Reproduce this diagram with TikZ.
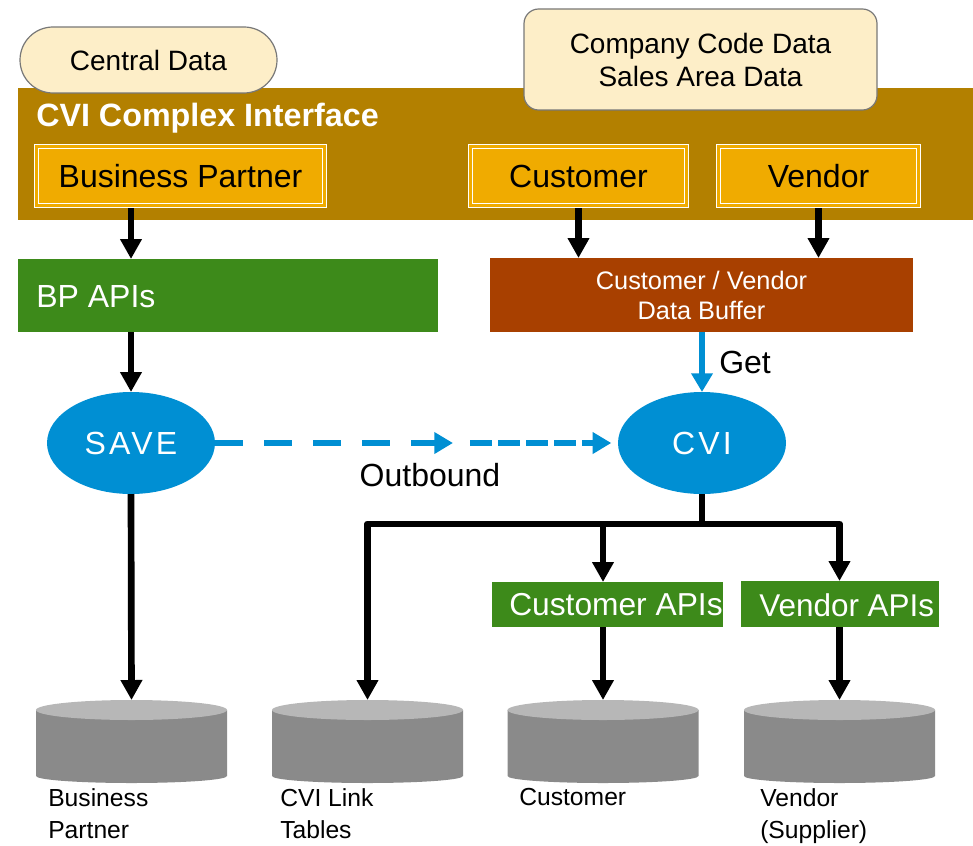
\documentclass[tikz,border=0pt]{standalone}
\usepackage{fontspec}
\setmainfont{Liberation Sans}
\newfontfamily\widefont[LetterSpace=10]{Liberation Sans}
\usetikzlibrary{arrows.meta,shapes.geometric}
\definecolor{gold}{RGB}{179,128,0}
\definecolor{boxorange}{RGB}{240,171,0}
\definecolor{cream}{RGB}{253,238,200}
\definecolor{apigreen}{RGB}{61,138,26}
\definecolor{bufbrown}{RGB}{168,64,0}
\definecolor{sapblue}{RGB}{0,143,211}
\definecolor{dbtopc}{RGB}{183,183,183}
\definecolor{dbbodyc}{RGB}{138,138,138}
\definecolor{bubbleline}{RGB}{120,120,120}
\newcommand\fs[2]{\fontsize{#1}{#2}\selectfont}
\newcommand\dbcyl[2]{%
  \fill[dbbodyc] ({#1-95.5},710) -- ({#1-95.5},776) arc[start angle=180,end angle=360,x radius=71.625pt,y radius=5.25pt] -- ({#1+95.5},710) -- cycle;
  \fill[dbtopc] (#1,710) ellipse[x radius=71.625pt, y radius=7.5pt];
  \coordinate (#2) at (#1,700);}
\begin{document}
\begin{tikzpicture}[x=0.75pt,y=-0.75pt,
  sz/.style 2 args={minimum width=#1*0.75pt, minimum height=#2*0.75pt, inner sep=0pt, outer sep=0pt},
  bubble/.style={fill=cream, draw=bubbleline, line width=0.9pt, align=center, font=\fs{21}{24.75}},
  entity/.style={fill=boxorange, draw=white, double=boxorange, double distance=2.25pt, line width=1.1pt, outer sep=2.2pt, font=\fs{24}{28}},
  api/.style={fill=apigreen},
  apitext/.style={anchor=west, text=white, inner sep=0pt},
  buf/.style={fill=bufbrown, text=white, align=center, font=\fs{19}{22.5}},
  proc/.style={ellipse, fill=sapblue, text=white, font=\widefont\fs{24}{28}},
  arr/.style={line width=5pt, line join=round, -{Triangle[width=15.5pt,length=15pt]}},
  plainline/.style={line width=5pt, line join=round},
  bluearr/.style={draw=sapblue, line width=5pt, -{Triangle[width=15.5pt,length=14pt]}},
  dblabel/.style={anchor=north west, align=left, inner sep=0pt, font=\fs{18.5}{24}}]
\useasboundingbox (0,0) rectangle (973,845);
% top band
\node[sz={955}{132}, fill=gold] (band) at (495.5,154) {};
\node[sz={257}{66}, bubble, rounded corners=24.75pt] (central) at (148.5,60) {Central Data};
\node[sz={353}{101}, bubble, rounded corners=11pt] (company) at (700.5,59.5) {Company Code Data\\Sales Area Data};
\node[anchor=west, text=white, font=\bfseries\fs{24.2}{28}, inner sep=0pt] (cvilbl) at (36,118) {CVI Complex Interface};
\node[sz={288}{59}, entity] (bp) at (180.5,176) {Business Partner};
\node[sz={216}{59}, entity] (cust) at (578.5,176) {Customer};
\node[sz={200}{59}, entity] (vend) at (818.5,176) {Vendor};
% APIs and buffer
\node[sz={420}{73}, api] (bpapi) at (228,295.5) {};
\node[apitext, font=\fs{24}{28}] (bpapilbl) at (36,297) {BP APIs};
\node[sz={423}{74}, buf] (buffer) at (701.5,295) {Customer / Vendor\\Data Buffer};
% processes
\node[sz={168}{102}, proc] (save) at (131,443) {SAVE};
\node[sz={168}{102}, proc] (cvi) at (702,443) {CVI};
\coordinate (m1) at (453,443);
\coordinate (m2) at (470,443);
\coordinate (j) at (702,524);
% lower APIs
\node[sz={231}{45}, api] (custapi) at (607.5,604.5) {};
\node[apitext, font=\fs{23.8}{27}] (custapilbl) at (509,605) {Customer APIs};
\node[sz={198}{46}, api] (vendapi) at (840,604) {};
\node[apitext, font=\fs{23.6}{27}] (vendapilbl) at (759,605) {Vendor APIs};
% databases
\dbcyl{131.5}{bpdb}
\dbcyl{367.5}{linkdb}
\dbcyl{603}{custdb}
\dbcyl{839.5}{venddb}
\node[dblabel] (bpdblbl) at (48,788) {Business\\Partner};
\node[dblabel] (linkdblbl) at (280,788) {CVI Link\\Tables};
\node[dblabel] (custdblbl) at (519,788) {Customer};
\node[dblabel] (venddblbl) at (760,788) {Vendor\\(Supplier)};
% labels
\node[font=\fs{24}{28}, inner sep=0pt] (outlbl) at (430,475) {Outbound};
\node[anchor=west, font=\fs{24}{28}, inner sep=0pt] (getlbl) at (719,362) {Get};
% connectors
\draw[arr] (save |- bp.south) -- (save |- bpapi.north);
\draw[arr] (save |- bpapi.south) -- (save.north);
\draw[arr] (cust.south) -- (cust.south |- buffer.north);
\draw[arr] (vend.south) -- (vend.south |- buffer.north);
\draw[bluearr] (cvi |- buffer.south) -- (cvi.north);
\draw[bluearr, dash pattern=on 21pt off 15.75pt] (save.east) -- (m1);
\draw[bluearr, dash pattern=on 16.5pt off 4.5pt, shorten >=5pt] (m2) -- (cvi.west);
\draw[arr] (save.south) -- (bpdb);
\draw[plainline] (cvi.south) -- (j);
\draw[arr] (j) -| (linkdb);
\draw[arr] (j) -| (custdb |- custapi.north);
\draw[arr] (j) -| (venddb |- vendapi.north);
\draw[arr] (custdb |- custapi.south) -- (custdb);
\draw[arr] (venddb |- vendapi.south) -- (venddb);
\end{tikzpicture}
\end{document}
